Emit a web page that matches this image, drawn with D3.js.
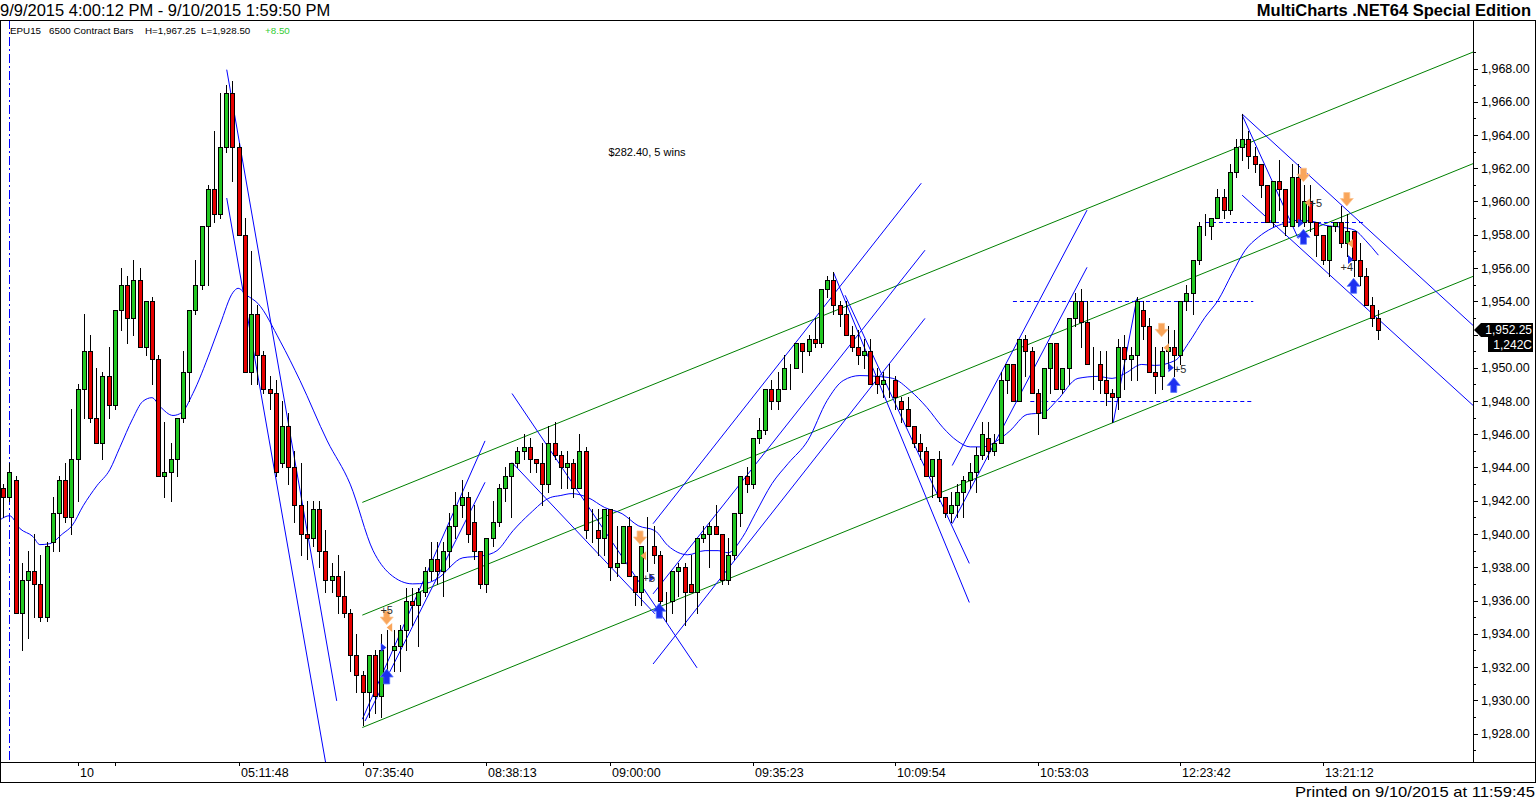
<!DOCTYPE html>
<html>
<head>
<meta charset="utf-8">
<title>EPU15 6500 Contract Bars</title>
<script src="https://cdn.jsdelivr.net/npm/d3@7"></script>
<style>
  body { margin: 0; background: #fff; }
  svg { display: block; }
  text { font-family: "Liberation Sans", Arial, sans-serif; }
</style>
</head>
<body>
<svg id="chart" width="1536" height="801"></svg>
<script>
// ---- bar data (6500 contract bars) ----
const opens = [
  1942.75,1942.25,1943.25,1935.25,1937.25,1937.75,1937.0,1935.0,1939.5,1941.25,
  1943.25,1941.0,1944.5,1948.75,1951.0,1947.0,1945.5,1949.5,1947.75,1953.5,
  1955.0,1953.0,1955.25,1951.25,1954.0,1950.5,1943.5,1943.75,1944.5,1947.0,
  1949.75,1953.5,1955.0,1958.5,1960.75,1959.25,1963.25,1966.5,1963.25,1958.0,
  1949.75,1953.25,1950.75,1948.75,1948.5,1944.25,1946.5,1944.0,1941.75,1940.0,
  1939.75,1941.5,1939.0,1937.25,1937.5,1936.25,1935.25,1932.75,1931.5,1930.5,
  1932.75,1930.25,1933.0,1933.0,1933.25,1934.25,1936.0,1935.75,1936.5,1937.75,
  1938.5,1937.75,1939.0,1940.5,1941.75,1942.25,1940.75,1939.0,1937.0,1939.75,
  1940.75,1942.75,1943.5,1944.25,1945.0,1945.25,1944.5,1944.25,1943.0,1945.5,
  1944.75,1944.0,1944.25,1942.75,1945.0,1940.25,1940.25,1939.75,1941.5,1938.0,
  1938.25,1940.5,1937.5,1936.5,1939.25,1939.25,1938.75,1936.0,1936.0,1937.75,
  1938.0,1937.0,1936.5,1939.75,1940.0,1940.5,1940.0,1937.25,1938.75,1941.25,
  1943.5,1943.0,1945.75,1946.25,1948.75,1948.0,1948.75,1950.0,1950.0,1951.5,
  1951.0,1951.75,1951.5,1954.75,1955.25,1953.75,1953.25,1952.0,1951.25,1950.75,
  1951.0,1949.5,1949.0,1949.25,1949.25,1948.0,1947.5,1946.5,1945.5,1945.0,
  1943.5,1944.5,1942.25,1941.25,1941.75,1942.5,1943.25,1943.75,1944.75,1945.75,
  1945.0,1945.5,1949.25,1950.25,1948.0,1951.75,1951.0,1948.5,1947.0,1950.0,
  1951.5,1948.75,1950.0,1953.0,1954.0,1952.75,1950.25,1950.25,1949.25,1948.5,
  1948.25,1951.25,1950.5,1950.75,1953.5,1952.5,1949.75,1949.5,1951.0,1951.25,
  1950.75,1954.0,1954.5,1956.5,1958.5,1958.5,1959.0,1960.25,1959.5,1961.75,
  1963.25,1963.75,1962.75,1962.25,1961.0,1958.75,1961.25,1960.75,1958.5,1961.5,
  1958.75,1960.0,1958.75,1958.0,1956.5,1958.5,1958.75,1957.5,1958.25,1956.5,
  1955.5,1953.75,1953.0
];
const highs = [
  1943.0,1944.25,1943.5,1938.25,1939.0,1940.0,1938.75,1939.5,1942.25,1943.5,
  1944.25,1947.5,1949.0,1953.25,1952.0,1950.0,1949.75,1951.25,1953.5,1956.0,
  1955.5,1956.5,1956.0,1954.0,1954.25,1950.75,1946.75,1945.5,1947.0,1951.0,
  1953.5,1956.5,1958.5,1961.0,1964.25,1966.5,1967.0,1967.25,1963.5,1959.0,
  1957.0,1953.75,1951.0,1949.5,1949.25,1948.0,1947.25,1945.0,1944.25,1942.0,
  1942.0,1942.0,1940.25,1938.25,1938.75,1937.75,1935.5,1934.0,1931.75,1932.75,
  1933.0,1934.0,1934.25,1934.25,1934.5,1936.75,1936.75,1936.75,1938.0,1939.5,
  1939.5,1939.5,1941.25,1942.5,1943.25,1942.5,1941.75,1939.0,1939.75,1942.0,
  1943.0,1944.0,1944.25,1945.25,1946.0,1945.75,1944.5,1945.5,1946.5,1946.75,
  1945.0,1945.0,1944.5,1946.0,1945.25,1941.5,1941.5,1941.5,1941.5,1940.5,
  1940.5,1941.0,1937.5,1939.25,1941.0,1940.5,1939.0,1936.5,1937.75,1938.25,
  1938.25,1938.75,1939.75,1940.5,1940.75,1941.75,1940.0,1939.75,1941.25,1943.5,
  1944.0,1945.75,1947.0,1948.75,1949.25,1949.75,1950.75,1950.25,1951.5,1951.5,
  1952.0,1953.0,1954.75,1955.5,1955.75,1954.0,1954.0,1952.5,1952.25,1951.75,
  1951.75,1950.0,1949.75,1950.25,1949.5,1948.25,1948.25,1946.5,1946.0,1945.25,
  1944.5,1945.0,1942.25,1942.5,1943.0,1943.5,1944.25,1945.25,1946.75,1946.75,
  1946.0,1949.75,1950.25,1950.25,1951.75,1952.0,1951.25,1948.75,1950.0,1951.5,
  1951.5,1950.0,1953.0,1954.5,1954.75,1954.0,1951.25,1951.0,1951.0,1948.75,
  1951.75,1952.0,1951.25,1954.25,1954.0,1953.0,1951.25,1951.25,1952.5,1952.25,
  1954.0,1955.0,1956.5,1958.75,1959.25,1959.0,1960.75,1960.75,1962.25,1963.75,
  1965.25,1964.25,1963.25,1962.25,1961.0,1961.25,1962.5,1960.75,1962.25,1962.25,
  1961.0,1961.0,1958.75,1958.0,1958.5,1958.75,1959.75,1959.25,1958.25,1957.5,
  1956.0,1954.25,1953.5
];
const lows = [
  1941.0,1942.0,1935.25,1933.0,1933.75,1935.0,1934.75,1934.75,1939.0,1939.0,
  1940.75,1940.0,1942.0,1947.0,1946.75,1945.5,1944.5,1947.0,1947.5,1952.25,
  1951.5,1952.0,1951.25,1950.75,1949.0,1943.5,1942.25,1942.0,1943.5,1946.75,
  1948.0,1953.25,1954.75,1955.0,1958.75,1959.0,1963.0,1961.25,1958.0,1949.75,
  1949.0,1949.0,1948.5,1947.5,1943.5,1944.0,1943.0,1940.75,1938.75,1938.5,
  1939.25,1938.0,1936.5,1936.5,1935.25,1935.0,1931.75,1930.5,1928.5,1929.0,
  1929.25,1929.0,1931.75,1931.75,1931.75,1933.0,1934.5,1933.25,1936.25,1937.25,
  1937.0,1936.25,1938.0,1939.75,1941.0,1939.5,1938.5,1936.75,1936.5,1939.25,
  1940.5,1942.0,1941.0,1944.0,1944.5,1943.75,1943.75,1941.75,1942.5,1944.5,
  1942.75,1942.75,1942.25,1942.75,1939.75,1939.5,1938.75,1938.75,1937.25,1937.5,
  1938.25,1937.5,1935.75,1935.75,1937.75,1938.25,1935.75,1934.75,1935.25,1936.25,
  1934.5,1936.5,1935.25,1939.5,1938.0,1940.0,1937.0,1937.0,1938.5,1940.5,
  1942.5,1942.75,1945.5,1946.0,1947.5,1947.5,1948.75,1948.75,1950.0,1949.75,
  1950.75,1951.25,1951.25,1954.25,1953.25,1952.5,1952.0,1951.0,1950.25,1950.0,
  1949.0,1948.5,1948.25,1948.25,1947.5,1946.75,1946.5,1945.25,1944.5,1943.5,
  1942.25,1942.0,1941.0,1940.75,1941.0,1941.0,1942.75,1942.5,1944.5,1944.5,
  1944.75,1945.5,1948.5,1948.0,1948.0,1949.5,1948.5,1946.0,1947.0,1948.5,
  1948.75,1948.5,1949.0,1952.5,1951.25,1950.25,1948.75,1948.5,1947.75,1946.75,
  1947.5,1948.75,1949.25,1949.25,1951.75,1949.75,1948.5,1948.75,1950.0,1949.5,
  1950.25,1953.5,1953.25,1956.25,1958.0,1957.75,1959.0,1959.0,1959.25,1961.5,
  1962.5,1962.0,1961.75,1960.25,1958.75,1958.5,1959.5,1958.0,1958.5,1958.5,
  1958.5,1958.25,1956.75,1956.25,1955.5,1958.25,1957.25,1956.75,1955.5,1955.0,
  1953.75,1952.5,1951.75
];
const closes = [
  1942.25,1943.75,1935.25,1937.25,1937.75,1937.0,1935.0,1939.25,1941.25,1943.25,
  1941.0,1944.5,1948.75,1951.0,1947.0,1945.5,1949.5,1947.75,1953.5,1955.0,
  1953.0,1955.25,1951.25,1954.0,1950.5,1943.5,1943.75,1944.5,1947.0,1949.75,
  1953.5,1955.0,1958.5,1960.75,1959.25,1963.25,1966.5,1963.25,1958.0,1949.75,
  1953.25,1950.75,1948.75,1948.5,1943.75,1946.5,1944.0,1941.75,1940.0,1939.75,
  1941.5,1939.0,1937.25,1937.5,1936.25,1935.25,1932.75,1931.5,1930.5,1932.75,
  1930.25,1933.0,1933.0,1933.25,1934.25,1936.0,1935.75,1936.5,1937.75,1938.5,
  1937.75,1939.0,1940.5,1941.75,1942.25,1940.0,1939.0,1937.0,1939.75,1940.75,
  1942.75,1943.5,1944.25,1945.0,1945.25,1944.5,1944.25,1943.0,1945.5,1944.75,
  1944.0,1944.25,1942.75,1945.0,1940.25,1940.25,1939.75,1941.5,1938.0,1938.25,
  1940.5,1937.5,1936.5,1939.25,1939.25,1938.75,1936.0,1936.0,1937.75,1938.0,
  1936.5,1936.5,1939.75,1940.0,1940.5,1940.0,1937.25,1938.75,1941.25,1943.5,
  1943.0,1945.75,1946.25,1948.75,1948.0,1948.75,1950.0,1950.0,1951.5,1951.0,
  1951.75,1951.5,1954.75,1955.25,1953.75,1953.25,1952.0,1951.25,1950.75,1951.0,
  1949.0,1949.0,1949.25,1949.25,1948.25,1947.5,1946.5,1945.5,1945.0,1943.5,
  1944.5,1942.25,1941.25,1941.75,1942.5,1943.25,1943.75,1944.75,1946.0,1945.0,
  1945.5,1949.25,1950.25,1948.0,1951.75,1951.0,1948.5,1947.25,1950.0,1951.5,
  1948.75,1950.0,1953.0,1954.0,1952.75,1950.25,1950.25,1949.25,1948.5,1948.25,
  1951.25,1950.5,1950.75,1954.0,1952.5,1949.75,1949.5,1951.0,1951.25,1950.75,
  1954.0,1954.5,1956.5,1958.5,1958.5,1959.0,1960.25,1959.5,1961.75,1963.25,
  1963.75,1962.75,1962.25,1961.0,1958.75,1961.25,1960.75,1958.5,1961.5,1958.75,
  1960.0,1958.75,1958.0,1956.5,1958.5,1958.75,1957.5,1958.25,1956.5,1955.5,
  1953.75,1953.0,1952.25
];

// moving average, read at sample bars: [bar index, price]
const maIdx = [-0.5,1.0,2.7,4.8,5.9,7.5,9.6,11.1,12.9,15.1,17.2,18.8,20.9,22.5,24.0,25.3,27.4,28.8,30.6,33.4,
  35.0,37.1,37.9,39.3,41.1,44.7,47.9,52.3,56.0,59.7,62.4,66.1,68.4,70.0,74.2,77.4,79.7,82.3,85.0,88.3,
  89.9,91.8,94.4,97.1,99.9,102.5,105.2,107.3,110.5,113.3,115.4,117.0,119.3,121.4,124.1,126.7,129.9,133.0,135.6,138.3,
  141.1,143.6,146.4,149.1,151.7,154.0,156.1,158.2,160.4,162.5,165.3,167.9,170.1,173.5,176.7,179.0,181.1,183.8,185.9,189.2,
  191.3,194.0,196.1,198.4,200.5,202.6,204.8,206.9,209.0,211.3,213.4,216.1,218.2,219.9,222.0];
const maVal = [1940.86,1941.1,1940.32,1939.84,1939.36,1939.42,1940.02,1940.5,1941.7,1942.9,1943.87,1945.2,1946.94,1947.97,1948.2,1947.67,1947.13,1947.3,1948.45,1950.98,
  1952.6,1954.54,1954.78,1954.36,1953.87,1951.6,1949.23,1945.6,1943.0,1939.0,1937.6,1937.0,1937.05,1937.3,1938.57,1938.69,1939.0,1940.2,1941.22,1942.19,
  1942.31,1942.43,1942.19,1941.59,1941.22,1940.5,1940.2,1939.3,1938.75,1939.0,1939.0,1938.87,1939.78,1941.22,1943.03,1944.24,1945.63,1948.03,1949.23,1949.53,
  1949.48,1949.36,1948.63,1947.61,1946.4,1945.6,1945.24,1945.24,1945.6,1946.2,1947.19,1947.3,1948.03,1949.36,1949.48,1949.36,1949.66,1950.2,1950.14,1950.44,
  1951.46,1953.03,1954.05,1955.68,1957.07,1957.85,1958.39,1958.69,1958.87,1958.81,1958.57,1958.45,1958.27,1957.67,1956.77];

// drawn trend lines: [bar1, price1, bar2, price2]
const channelLines = [
  [57.96, 1941.9, 237.3, 1968.99],
  [57.96, 1935.12, 237.3, 1962.28],
  [57.96, 1928.36, 237.3, 1955.5]
];
const trendLines = [
  [36.07, 1967.93, 53.83, 1929.96],
  [36.07, 1960.21, 52.05, 1926.22],
  [57.96, 1928.86, 77.77, 1945.6],
  [58.4, 1928.75, 77.77, 1943.11],
  [82.13, 1948.45, 112.0, 1931.95],
  [82.13, 1944.3, 105.2, 1935.2],
  [104.9, 1940.62, 148.2, 1961.1],
  [104.9, 1936.4, 148.8, 1957.07],
  [104.9, 1932.18, 148.8, 1952.97],
  [134.0, 1955.76, 155.96, 1935.88],
  [135.9, 1954.36, 155.96, 1938.23],
  [153.2, 1944.12, 174.96, 1959.48],
  [153.2, 1940.62, 174.96, 1956.04],
  [179.2, 1946.72, 183.0, 1954.16],
  [200.0, 1965.26, 237.3, 1952.54],
  [200.0, 1960.38, 237.3, 1947.73],
  [200.0, 1965.2, 209.07, 1957.77]
];
const levelLines = [
  [163.0, 201.8, 1954.0],
  [165.8, 201.8, 1948.0],
  [194.0, 219.9, 1958.75]
];

// trade markers: [bar index, price]
const buyArrows = [[61.9,1931.46],[105.9,1935.42],[188.96,1949.0],[209.9,1957.91],[218.0,1954.96]];
const exitArrows = [[61.9,1934.94],[102.8,1939.76],[187.0,1952.25],[209.9,1961.58],[216.9,1960.12]];
const exitTicks = [[62.3,1934.37],[103.3,1938.69],[187.7,1951.2],[210.5,1959.92],[217.4,1957.47]];
const entryTicks = [[61.35,1933.17],[104.7,1937.37],[188.5,1950.0],[209.45,1958.71],[217.5,1956.51]];
const profitLabels = [[61.9,1935.4,"+5"],[104.2,1937.37,"+5"],[190.0,1949.9,"+5"],[211.9,1959.9,"+5"],[216.9,1956.04,"+4"]];

// time axis
const timeTickIdx = [12, 18, 38, 58, 78, 98, 121, 144, 167, 190, 213];
const timeTickLabels = ["10", "", "05:11:48", "07:35:40", "08:38:13", "09:00:00", "09:35:23", "10:09:54", "10:53:03", "12:23:42", "13:21:12"];
const sessionBreakIdx = 1;
const lastPrice = 1952.25;
const lastVolume = "1,242C";

// ---- layout ----
const W = 1536, H = 801;
const plot = { left: 0, right: 1473, top: 20, bottom: 762 };
const upColor = "#22c822", downColor = "#e60000";

const x = d3.scaleLinear().domain([0, 222]).range([3.3, 1378.4]);
const y = d3.scaleLinear().domain([1928, 1968]).range([733.5, 68.5]);
const fmt = d3.format(",.2f");

const svg = d3.select("#chart");
svg.append("rect").attr("width", W).attr("height", H).attr("fill", "#fff");

svg.append("defs").append("clipPath").attr("id", "plotClip").append("rect")
    .attr("x", plot.left).attr("y", plot.top)
    .attr("width", plot.right - plot.left).attr("height", plot.bottom - plot.top);

const g = svg.append("g").attr("clip-path", "url(#plotClip)");

// session break
g.append("line")
    .attr("x1", Math.round(x(sessionBreakIdx)) + 0.5).attr("x2", Math.round(x(sessionBreakIdx)) + 0.5)
    .attr("y1", plot.top).attr("y2", plot.bottom)
    .attr("stroke", "#0000ff").attr("stroke-width", 1)
    .attr("stroke-dasharray", "9,3,2,3");

// channels
g.selectAll(".channel").data(channelLines).enter().append("line")
    .attr("class", "channel")
    .attr("x1", d => x(d[0])).attr("y1", d => y(d[1]))
    .attr("x2", d => x(d[2])).attr("y2", d => y(d[3]))
    .attr("stroke", "#008000").attr("stroke-width", 1);

// trend lines
g.selectAll(".trend").data(trendLines).enter().append("line")
    .attr("class", "trend")
    .attr("x1", d => x(d[0])).attr("y1", d => y(d[1]))
    .attr("x2", d => x(d[2])).attr("y2", d => y(d[3]))
    .attr("stroke", "#0000ff").attr("stroke-width", 1);

// dashed levels
g.selectAll(".level").data(levelLines).enter().append("line")
    .attr("class", "level")
    .attr("x1", d => x(d[0])).attr("x2", d => x(d[1]))
    .attr("y1", d => Math.round(y(d[2])) + 0.5).attr("y2", d => Math.round(y(d[2])) + 0.5)
    .attr("stroke", "#0000ff").attr("stroke-width", 1)
    .attr("stroke-dasharray", "4,3");

// moving average
const maPoints = maIdx.map((v, i) => [v, maVal[i]]);
g.append("path")
    .datum(maPoints)
    .attr("fill", "none")
    .attr("stroke", "#0000ff")
    .attr("stroke-width", 1)
    .attr("d", d3.line().x(d => x(d[0])).y(d => y(d[1])).curve(d3.curveMonotoneX));

// candles
const bars = opens.map((o, i) => ({ i, o, h: highs[i], l: lows[i], c: closes[i] }));
const candle = g.selectAll(".bar").data(bars).enter().append("g").attr("class", "bar")
    .attr("shape-rendering", "crispEdges");

candle.append("line")
    .attr("x1", d => Math.round(x(d.i)) + 0.5).attr("x2", d => Math.round(x(d.i)) + 0.5)
    .attr("y1", d => Math.round(y(d.h))).attr("y2", d => Math.round(y(d.l)) + 1)
    .attr("stroke", "#000");

candle.append("rect")
    .attr("x", d => Math.round(x(d.i)) - 1.5)
    .attr("y", d => Math.round(y(Math.max(d.o, d.c))) + 0.5)
    .attr("width", 4)
    .attr("height", d => Math.round(y(Math.min(d.o, d.c))) - Math.round(y(Math.max(d.o, d.c))))
    .attr("fill", d => d.c > d.o ? upColor : (d.c < d.o ? downColor : "#000"))
    .attr("stroke", "#000").attr("stroke-width", 1);

// markers
const markers = g.append("g");
markers.selectAll(".exitArrow").data(exitArrows).enter().append("path")
    .attr("class", "exitArrow")
    .attr("d", d => {
        const cx = x(d[0]), cy = y(d[1]);
        return `M${cx - 3},${cy - 7} h6 v6 h3.5 l-6.5,7.5 l-6.5,-7.5 h3.5 z`;
    })
    .attr("fill", "#f9a55a").attr("stroke", "#fbc593").attr("stroke-width", 0.8);

markers.selectAll(".buyArrow").data(buyArrows).enter().append("path")
    .attr("class", "buyArrow")
    .attr("d", d => {
        const cx = x(d[0]), cy = y(d[1]);
        return `M${cx - 3},${cy + 8} h6 v-7 h3.5 l-6.5,-8 l-6.5,8 h3.5 z`;
    })
    .attr("fill", "#1c2ff0").attr("stroke", "#5a78ff").attr("stroke-width", 0.8);

markers.selectAll(".exitTick").data(exitTicks).enter().append("path")
    .attr("class", "exitTick")
    .attr("d", d => {
        const cx = x(d[0]), cy = y(d[1]);
        return `M${cx + 3},${cy - 4.5} L${cx - 2.5},${cy} L${cx + 3},${cy + 4.5} z`;
    })
    .attr("fill", "#f9a55a");

markers.selectAll(".entryTick").data(entryTicks).enter().append("path")
    .attr("class", "entryTick")
    .attr("d", d => {
        const cx = x(d[0]), cy = y(d[1]);
        return `M${cx - 2.5},${cy - 4.5} L${cx + 3},${cy} L${cx - 2.5},${cy + 4.5} z`;
    })
    .attr("fill", "#1c2ff0");

markers.selectAll(".profit").data(profitLabels).enter().append("text")
    .attr("class", "profit")
    .attr("x", d => x(d[0])).attr("y", d => y(d[1]))
    .attr("dy", "0.36em")
    .attr("text-anchor", "middle")
    .attr("font-size", "11px")
    .attr("fill", "#2a2a2a")
    .text(d => d[2]);

// strategy summary
svg.append("text")
    .attr("x", 647).attr("y", 156)
    .attr("text-anchor", "middle")
    .attr("font-size", "11px")
    .attr("fill", "#000")
    .text("$282.40, 5 wins");

// ---- frame ----
const frame = svg.append("g").attr("stroke", "#000").attr("stroke-width", 1).attr("shape-rendering", "crispEdges");
frame.append("line").attr("x1", 0).attr("x2", W).attr("y1", plot.top + 0.5).attr("y2", plot.top + 0.5);
frame.append("line").attr("x1", 0.5).attr("x2", 0.5).attr("y1", plot.top).attr("y2", 782);
frame.append("line").attr("x1", plot.right + 0.5).attr("x2", plot.right + 0.5).attr("y1", plot.top).attr("y2", plot.bottom);
frame.append("line").attr("x1", W - 0.5).attr("x2", W - 0.5).attr("y1", plot.top).attr("y2", 782);
frame.append("line").attr("x1", 0).attr("x2", W).attr("y1", plot.bottom + 0.5).attr("y2", plot.bottom + 0.5);
frame.append("line").attr("x1", 0).attr("x2", W).attr("y1", 782.5).attr("y2", 782.5);

// ---- time axis ----
const timeAxis = svg.append("g").attr("shape-rendering", "crispEdges");
timeAxis.selectAll(".tt").data(timeTickIdx).enter().append("line")
    .attr("x1", d => Math.round(x(d)) + 0.5).attr("x2", d => Math.round(x(d)) + 0.5)
    .attr("y1", plot.bottom).attr("y2", plot.bottom + 4)
    .attr("stroke", "#000");
timeAxis.selectAll(".tl").data(timeTickIdx).enter().append("text")
    .attr("x", d => Math.round(x(d)) + 2)
    .attr("y", 777)
    .attr("font-size", "12.5px")
    .attr("fill", "#000")
    .text((d, i) => timeTickLabels[i]);

// ---- price axis ----
const priceAxis = svg.append("g");
const majorTicks = d3.range(1928, 1969, 2);
const minorTicks = d3.range(1927, 1971, 1).filter(v => v % 2 !== 0);
priceAxis.selectAll(".pm").data(minorTicks).enter().append("line")
    .attr("x1", plot.right).attr("x2", plot.right + 3)
    .attr("y1", d => Math.round(y(d)) + 0.5).attr("y2", d => Math.round(y(d)) + 0.5)
    .attr("stroke", "#000").attr("shape-rendering", "crispEdges");
priceAxis.selectAll(".pM").data(majorTicks).enter().append("line")
    .attr("x1", plot.right).attr("x2", plot.right + 5)
    .attr("y1", d => Math.round(y(d)) + 0.5).attr("y2", d => Math.round(y(d)) + 0.5)
    .attr("stroke", "#000").attr("shape-rendering", "crispEdges");
// the last-price flag hides the label it sits on
const ly = Math.round(y(lastPrice));
priceAxis.selectAll(".pl").data(majorTicks.filter(v => Math.abs(y(v) - ly) > 12)).enter().append("text")
    .attr("x", plot.right + 8)
    .attr("y", d => y(d))
    .attr("dy", "0.36em")
    .attr("font-size", "12.5px")
    .attr("fill", "#000")
    .text(d => fmt(d));

// last price flag
svg.append("path")
    .attr("d", `M${plot.right + 1},${ly} L${plot.right + 8},${ly - 7} H1533 V${ly + 7} H${plot.right + 8} Z`)
    .attr("fill", "#000");
svg.append("text")
    .attr("x", 1532).attr("y", ly).attr("dy", "0.35em")
    .attr("text-anchor", "end").attr("font-size", "12px").attr("fill", "#fff")
    .text(fmt(lastPrice));
svg.append("rect")
    .attr("x", 1488).attr("y", ly + 7).attr("width", 45).attr("height", 15)
    .attr("fill", "#000");
svg.append("text")
    .attr("x", 1532).attr("y", ly + 15).attr("dy", "0.35em")
    .attr("text-anchor", "end").attr("font-size", "12px").attr("fill", "#fff")
    .text(lastVolume);

// ---- titles ----
svg.append("text")
    .attr("x", 0).attr("y", 16)
    .attr("font-size", "16.5px").attr("fill", "#000")
    .text("9/9/2015 4:00:12 PM - 9/10/2015 1:59:50 PM");
svg.append("text")
    .attr("x", 1531).attr("y", 16)
    .attr("text-anchor", "end")
    .attr("font-size", "16.5px").attr("font-weight", "bold").attr("fill", "#000")
    .text("MultiCharts .NET64 Special Edition");

const legendParts = [
  [10, "EPU15", "#000"],
  [49, "6500 Contract Bars", "#000"],
  [145, "H=1,967.25", "#000"],
  [201, "L=1,928.50", "#000"],
  [265, "+8.50", "#33cc33"]
];
svg.selectAll(".legend").data(legendParts).enter().append("text")
    .attr("class", "legend")
    .attr("x", d => d[0]).attr("y", 34)
    .attr("font-size", "9.8px")
    .attr("fill", d => d[2])
    .text(d => d[1]);

svg.append("text")
    .attr("x", 1535).attr("y", 797)
    .attr("text-anchor", "end")
    .attr("font-family", "'DejaVu Sans', sans-serif")
    .attr("font-size", "15px")
    .attr("textLength", 240).attr("lengthAdjust", "spacingAndGlyphs")
    .attr("fill", "#000")
    .text("Printed on 9/10/2015 at 11:59:45");
</script>
</body>
</html>
